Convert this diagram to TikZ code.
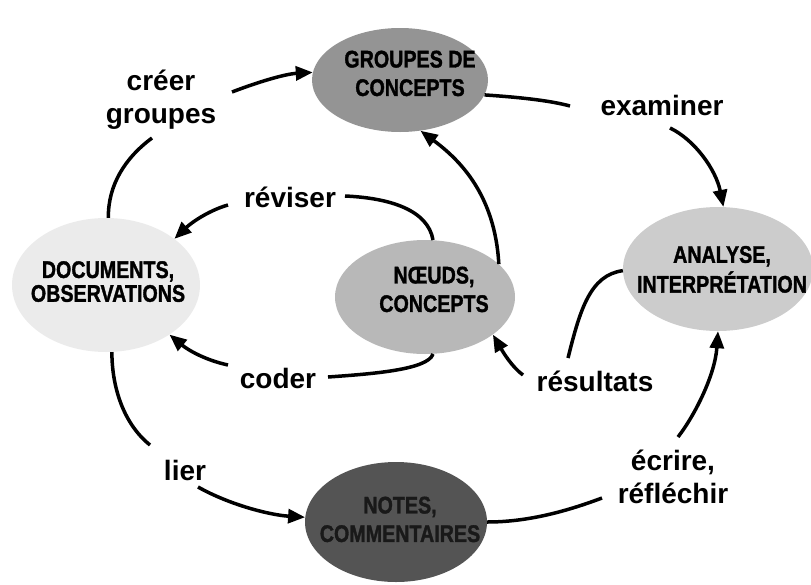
\documentclass[tikz,border=0pt]{standalone}
\usepackage{fontspec}
\setmainfont{Liberation Sans}
\newfontfamily\heavysf{Liberation Sans}[BoldFeatures={FakeBold=1.6}]
\usetikzlibrary{arrows.meta,shapes.geometric}

\definecolor{grpfill}{gray}{0.58}
\definecolor{docfill}{gray}{0.92}
\definecolor{nodfill}{gray}{0.72}
\definecolor{anafill}{gray}{0.80}
\definecolor{notfill}{gray}{0.33}

% two-line condensed heavy caption
\newcommand\narrowcapt[3][28.5]{%
  \heavysf\fontsize{24}{#1}\selectfont\bfseries
  \scalebox{0.82}[1]{\begin{tabular}{@{}c@{}}#2\\#3\end{tabular}}}

\tikzset{
  blob/.style={ellipse, draw=none, inner sep=0pt},
  blobtext/.style={inner sep=0pt},
  verb/.style={font=\bfseries\fontsize{28}{33}\selectfont, align=center, inner sep=0pt},
  link/.style={line width=3.5pt},
  arrowlink/.style={link, -{Triangle[length=17pt,width=14pt]}}
}

\begin{document}
\begin{tikzpicture}[x=1pt,y=-1pt]
\useasboundingbox (0,0) rectangle (811,584);

% ellipses
\node[blob, fill=grpfill, minimum width=176pt, minimum height=104pt] (grp) at (400,80) {};
\node[blob, fill=docfill, minimum width=188pt, minimum height=134pt] (doc) at (106,285) {};
\node[blob, fill=nodfill, minimum width=180pt, minimum height=114pt] (nod) at (425,297) {};
\node[blob, fill=anafill, minimum width=190pt, minimum height=124pt] (ana) at (718,269) {};
\node[blob, fill=notfill, minimum width=182pt, minimum height=120pt] (not) at (396,522) {};

% ellipse captions
\node[blobtext] (grpT) at (410,76) {\narrowcapt{GROUPES DE}{CONCEPTS}};
\node[blobtext] (docT) at (108,285) {\narrowcapt[23.5]{DOCUMENTS,}{OBSERVATIONS}};
\node[blobtext] (nodT) at (434,292) {\narrowcapt{NŒUDS,}{CONCEPTS}};
\node[blobtext] (anaT) at (722,272) {\narrowcapt{ANALYSE,}{INTERPRÉTATION}};
\node[blobtext, text=black!90] (notT) at (400,522) {\narrowcapt{NOTES,}{COMMENTAIRES}};

% verbs
\node[verb] (creer) at (161,100) {créer\\groupes};
\node[verb, anchor=base] (examiner) at (662,115) {examiner};
\node[verb, anchor=base] (reviser) at (290,207) {réviser};
\node[verb, anchor=base] (coder) at (278,388) {coder};
\node[verb, anchor=base] (resultats) at (595,391) {résultats};
\node[verb, anchor=base] (lier) at (185,480) {lier};
\node[verb] (ecrire) at (673,477) {écrire,\\réfléchir};

% free ends of the connectors beside the verbs
\coordinate (c1) at (152,138);
\coordinate (c2) at (232,92);
\coordinate (e1) at (570,106);
\coordinate (e2) at (670,128);
\coordinate (r1) at (345,196);
\coordinate (r2) at (228,205);
\coordinate (k1) at (328,377);
\coordinate (k2) at (228,365);
\coordinate (s1) at (523,375);
\coordinate (s2) at (568,358);
\coordinate (l1) at (150,445);
\coordinate (l2) at (198,487);
\coordinate (w1) at (602,498);
\coordinate (w2) at (678,437);

% créer groupes
\draw[link] (doc.88) .. controls (108,185) and (125,158) .. (c1);
\draw[arrowlink] (c2) .. controls (258,82) and (285,74) .. (grp.175);
% examiner
\draw[link] (grp.350) .. controls (515,97) and (548,100) .. (e1);
\draw[arrowlink] (e2) .. controls (695,140) and (716,170) .. (ana.85);
% réviser
\draw[link] (nod.82) .. controls (428,210) and (390,198) .. (r1);
\draw[arrowlink] (r2) .. controls (210,210) and (192,222) .. (doc.34);
% coder
\draw[link] (nod.278) .. controls (428,370) and (370,374) .. (k1);
\draw[arrowlink] (k2) .. controls (205,360) and (188,350) .. (doc.322);
% nodes up to groups
\draw[arrowlink] (nod.24) .. controls (495,195) and (460,160) .. (grp.292);
% résultats
\draw[arrowlink] (s1) .. controls (512,367) and (503,352) .. (nod.331);
\draw[link] (ana.181) .. controls (590,275) and (580,310) .. (s2);
% lier
\draw[link] (doc.275) .. controls (112,390) and (125,425) .. (l1);
\draw[arrowlink] (l2) .. controls (230,505) and (270,515) .. (not.177);
% écrire, réfléchir
\draw[link] (not.east) .. controls (530,522) and (570,510) .. (w1);
\draw[arrowlink] (w2) .. controls (695,415) and (715,375) .. (ana.south);
\end{tikzpicture}
\end{document}
